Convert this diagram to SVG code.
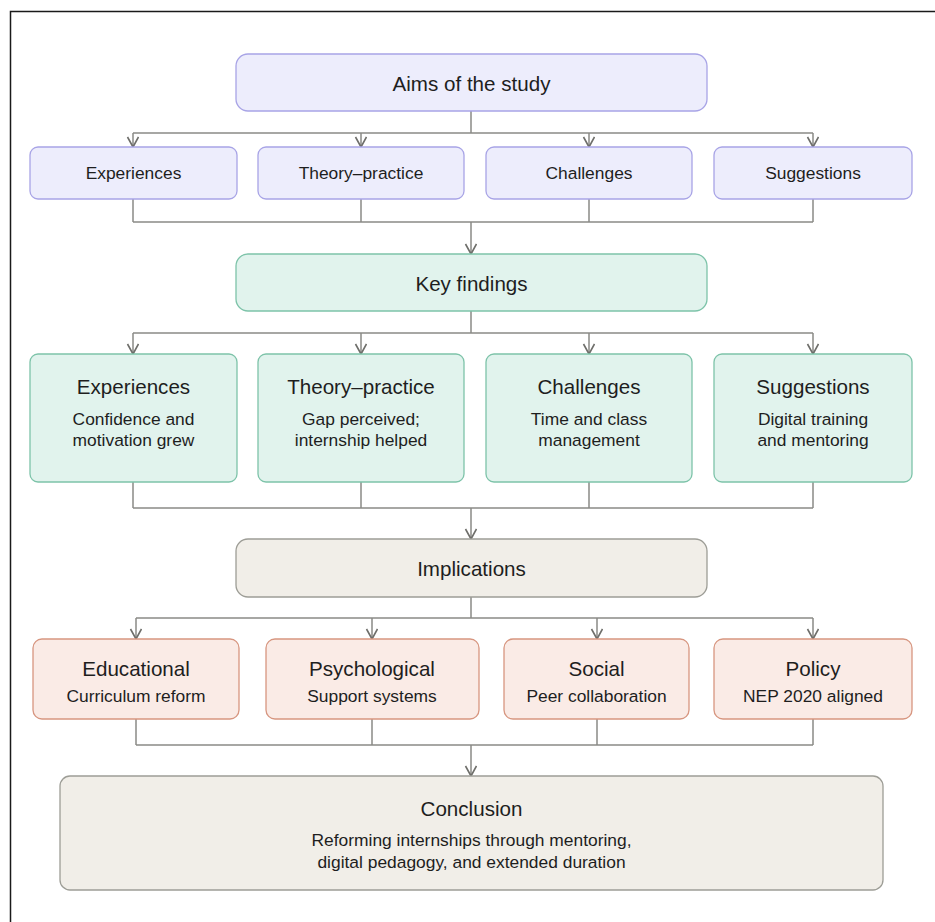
<svg xmlns="http://www.w3.org/2000/svg" width="935" height="922" viewBox="0 0 935 922">
<defs>
<marker id="arr" markerUnits="userSpaceOnUse" markerWidth="14" markerHeight="14" refX="11" refY="6" orient="auto" viewBox="0 0 14 14">
<path d="M1,0.5 L11,6 L1,11.5" fill="none" stroke="#6e6e6a" stroke-width="1.6"/>
</marker>
</defs>
<style>
text{font-family:"Liberation Sans",Arial,sans-serif;fill:#1e1e1e;text-anchor:middle;dominant-baseline:central}
.aim{fill:#ededfc;stroke:#a8a4e6;stroke-width:1.3}
.key{fill:#e1f3ed;stroke:#7dc3a9;stroke-width:1.3}
.imp{fill:#f1eee8;stroke:#9d9d96;stroke-width:1.3}
.pol{fill:#faebe6;stroke:#d79680;stroke-width:1.3}
.c line,.c polyline{stroke:#8a8a86;stroke-width:1.5;fill:none}
.a{marker-end:url(#arr)}
.h{font-size:20.6px}
.s{font-size:17.4px}
</style>
<rect x="0" y="0" width="935" height="922" fill="#ffffff"/>
<rect x="10.5" y="11.5" width="940" height="930" fill="none" stroke="#1a1a1a" stroke-width="1.5"/>

<g class="c" id="connectors">
<line x1="471" y1="111" x2="471" y2="133"/>
<line x1="133" y1="133" x2="813" y2="133"/>
<line class="a" x1="133" y1="133" x2="133" y2="147"/>
<line class="a" x1="361" y1="133" x2="361" y2="147"/>
<line class="a" x1="589" y1="133" x2="589" y2="147"/>
<line class="a" x1="813" y1="133" x2="813" y2="147"/>
<line x1="133" y1="199" x2="133" y2="222"/>
<line x1="361" y1="199" x2="361" y2="222"/>
<line x1="589" y1="199" x2="589" y2="222"/>
<line x1="813" y1="199" x2="813" y2="222"/>
<line x1="133" y1="222" x2="813" y2="222"/>
<line class="a" x1="471" y1="222" x2="471" y2="254"/>

<line x1="471" y1="311" x2="471" y2="333"/>
<line x1="133" y1="333" x2="813" y2="333"/>
<line class="a" x1="133" y1="333" x2="133" y2="354"/>
<line class="a" x1="361" y1="333" x2="361" y2="354"/>
<line class="a" x1="589" y1="333" x2="589" y2="354"/>
<line class="a" x1="813" y1="333" x2="813" y2="354"/>
<line x1="133" y1="482" x2="133" y2="508"/>
<line x1="361" y1="482" x2="361" y2="508"/>
<line x1="589" y1="482" x2="589" y2="508"/>
<line x1="813" y1="482" x2="813" y2="508"/>
<line x1="133" y1="508" x2="813" y2="508"/>
<line class="a" x1="471" y1="508" x2="471" y2="539"/>

<line x1="471" y1="597" x2="471" y2="618"/>
<line x1="136" y1="618" x2="813" y2="618"/>
<line class="a" x1="136" y1="618" x2="136" y2="639"/>
<line class="a" x1="372" y1="618" x2="372" y2="639"/>
<line class="a" x1="597" y1="618" x2="597" y2="639"/>
<line class="a" x1="813" y1="618" x2="813" y2="639"/>
<line x1="136" y1="719" x2="136" y2="745"/>
<line x1="372" y1="719" x2="372" y2="745"/>
<line x1="597" y1="719" x2="597" y2="745"/>
<line x1="813" y1="719" x2="813" y2="745"/>
<line x1="136" y1="745" x2="813" y2="745"/>
<line class="a" x1="471" y1="745" x2="471" y2="776"/>
</g>

<g id="aims"><rect class="aim" x="236" y="54" width="471" height="57" rx="12"/><text class="h" x="471.5" y="83">Aims of the study</text></g>
<g id="aim-exp"><rect class="aim" x="30" y="147" width="207" height="52" rx="8"/><text class="s" x="133.5" y="173">Experiences</text></g>
<g id="aim-tp"><rect class="aim" x="258" y="147" width="206" height="52" rx="8"/><text class="s" x="361" y="173">Theory–practice</text></g>
<g id="aim-ch"><rect class="aim" x="486" y="147" width="206" height="52" rx="8"/><text class="s" x="589" y="173">Challenges</text></g>
<g id="aim-sg"><rect class="aim" x="714" y="147" width="198" height="52" rx="8"/><text class="s" x="813" y="173">Suggestions</text></g>

<g id="key"><rect class="key" x="236" y="254" width="471" height="57" rx="12"/><text class="h" x="471.5" y="283">Key findings</text></g>
<g id="key-exp"><rect class="key" x="30" y="354" width="207" height="128" rx="8"/><text class="h" x="133.5" y="386">Experiences</text><text class="s" x="133.5" y="418.5">Confidence and</text><text class="s" x="133.5" y="439.5">motivation grew</text></g>
<g id="key-tp"><rect class="key" x="258" y="354" width="206" height="128" rx="8"/><text class="h" x="361" y="386">Theory–practice</text><text class="s" x="361" y="418.5">Gap perceived;</text><text class="s" x="361" y="439.5">internship helped</text></g>
<g id="key-ch"><rect class="key" x="486" y="354" width="206" height="128" rx="8"/><text class="h" x="589" y="386">Challenges</text><text class="s" x="589" y="418.5">Time and class</text><text class="s" x="589" y="439.5">management</text></g>
<g id="key-sg"><rect class="key" x="714" y="354" width="198" height="128" rx="8"/><text class="h" x="813" y="386">Suggestions</text><text class="s" x="813" y="418.5">Digital training</text><text class="s" x="813" y="439.5">and mentoring</text></g>

<g id="impl"><rect class="imp" x="236" y="539" width="471" height="58" rx="12"/><text class="h" x="471.5" y="568">Implications</text></g>
<g id="impl-ed"><rect class="pol" x="33" y="639" width="206" height="80" rx="9"/><text class="h" x="136" y="668">Educational</text><text class="s" x="136" y="696">Curriculum reform</text></g>
<g id="impl-ps"><rect class="pol" x="266" y="639" width="213" height="80" rx="9"/><text class="h" x="372" y="668">Psychological</text><text class="s" x="372" y="696">Support systems</text></g>
<g id="impl-so"><rect class="pol" x="504" y="639" width="185" height="80" rx="9"/><text class="h" x="596.5" y="668">Social</text><text class="s" x="596.5" y="696">Peer collaboration</text></g>
<g id="impl-po"><rect class="pol" x="714" y="639" width="198" height="80" rx="9"/><text class="h" x="813" y="668">Policy</text><text class="s" x="813" y="696">NEP 2020 aligned</text></g>

<g id="conclusion"><rect class="imp" x="60" y="776" width="823" height="114" rx="10"/><text class="h" x="471.5" y="808">Conclusion</text><text class="s" x="471.5" y="840">Reforming internships through mentoring,</text><text class="s" x="471.5" y="861.5">digital pedagogy, and extended duration</text></g>
</svg>
